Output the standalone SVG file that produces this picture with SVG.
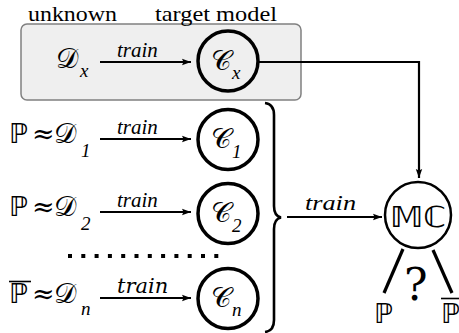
<svg xmlns="http://www.w3.org/2000/svg" width="459" height="333" viewBox="0 0 459 333">
<defs>
<marker id="ah" markerUnits="userSpaceOnUse" markerWidth="10" markerHeight="8" refX="9" refY="4" orient="auto">
<path d="M0,0.8 L9,4 L0,7.2 L1.5,4 z" fill="#000"/>
</marker>
</defs>
<rect width="459" height="333" fill="#fff"/>
<rect x="21" y="24" width="280" height="76" rx="6" fill="#efefef" stroke="#808080" stroke-width="1.5"/>
<text x="28" y="21" font-size="22" font-family="serif" textLength="89" lengthAdjust="spacingAndGlyphs">unknown</text>
<text x="155" y="21" font-size="22" font-family="Times New Roman" textLength="122" lengthAdjust="spacingAndGlyphs">target model</text>

<g id="Dx">
<text x="56" y="68" font-size="28" font-family="DejaVu Sans">𝒟</text>
<text x="80" y="77" font-size="19" font-family="serif" font-style="italic">x</text>
</g>
<g id="D1">
<text x="9" y="143" font-size="27" font-family="DejaVu Sans">ℙ</text>
<text x="32" y="143" font-size="27" font-family="DejaVu Serif">≈</text>
<text x="54" y="143" font-size="28" font-family="DejaVu Sans">𝒟</text>
<text x="81" y="157" font-size="19" font-family="serif" font-style="italic">1</text>
</g>
<g id="D2">
<text x="9" y="216" font-size="27" font-family="DejaVu Sans">ℙ</text>
<text x="32" y="216" font-size="27" font-family="DejaVu Serif">≈</text>
<text x="54" y="216" font-size="28" font-family="DejaVu Sans">𝒟</text>
<text x="81" y="230" font-size="19" font-family="serif" font-style="italic">2</text>
</g>
<g id="Dn">
<text x="9" y="303" font-size="27" font-family="DejaVu Sans">ℙ</text>
<line x1="9" y1="281.5" x2="31" y2="281.5" stroke="#000" stroke-width="1.6"/>
<text x="32" y="303" font-size="27" font-family="DejaVu Serif">≈</text>
<text x="54" y="303" font-size="28" font-family="DejaVu Sans">𝒟</text>
<text x="81" y="315" font-size="19" font-family="serif" font-style="italic">n</text>
</g>

<g id="Cx">
<circle cx="228" cy="61" r="30" fill="none" stroke="#000" stroke-width="3.5"/>
<text x="211" y="70" font-size="28" font-family="DejaVu Sans">𝒞</text>
<text x="232" y="79" font-size="19" font-family="serif" font-style="italic">x</text>
</g>
<g id="C1">
<circle cx="228" cy="139.5" r="30" fill="none" stroke="#000" stroke-width="3.5"/>
<text x="211" y="148" font-size="28" font-family="DejaVu Sans">𝒞</text>
<text x="232" y="158" font-size="19" font-family="serif" font-style="italic">1</text>
</g>
<g id="C2">
<circle cx="228" cy="213.5" r="30" fill="none" stroke="#000" stroke-width="3.5"/>
<text x="211" y="222" font-size="28" font-family="DejaVu Sans">𝒞</text>
<text x="232" y="232" font-size="19" font-family="serif" font-style="italic">2</text>
</g>
<g id="Cn">
<circle cx="228" cy="298.5" r="30" fill="none" stroke="#000" stroke-width="3.5"/>
<text x="211" y="307" font-size="28" font-family="DejaVu Sans">𝒞</text>
<text x="232" y="316" font-size="19" font-family="serif" font-style="italic">n</text>
</g>

<g id="MC">
<circle cx="418" cy="215" r="33" fill="none" stroke="#000" stroke-width="2.5"/>
<text x="390" y="227" font-size="29" font-family="DejaVu Sans" textLength="56" lengthAdjust="spacingAndGlyphs">𝕄ℂ</text>
</g>
<g id="P">
<text x="374" y="323" font-size="27" font-family="DejaVu Sans">ℙ</text>
</g>
<g id="Pbar">
<text x="441" y="323" font-size="27" font-family="DejaVu Sans">ℙ</text>
<line x1="441" y1="298.5" x2="459" y2="298.5" stroke="#000" stroke-width="1.6"/>
</g>
<text x="404" y="300" font-size="44" font-family="DejaVu Serif">?</text>

<g id="connectors">
<g stroke="#000" stroke-width="2.2" fill="none" marker-end="url(#ah)">
<line x1="100" y1="62" x2="191" y2="62"/>
<line x1="100" y1="139" x2="191" y2="139"/>
<line x1="100" y1="212" x2="191" y2="212"/>
<line x1="100" y1="298" x2="191" y2="298"/>
<line x1="287" y1="217" x2="382" y2="217"/>
<path d="M259,62 L419,62 L419,178"/>
</g>
<text x="117" y="57" font-size="21" font-family="Liberation Serif" font-style="italic">train</text>
<text x="117" y="134" font-size="21" font-family="serif" font-style="italic">train</text>
<text x="117" y="207" font-size="21" font-family="Times New Roman" font-style="italic">train</text>
<text x="117" y="293" font-size="21" font-family="DejaVu Serif" font-style="italic">train</text>
<text x="305" y="210" font-size="21" font-family="serif" font-style="italic" textLength="51" lengthAdjust="spacingAndGlyphs">train</text>
<line x1="68" y1="256" x2="224" y2="256" stroke="#000" stroke-width="4" stroke-dasharray="4 9.3"/>
<path d="M265,103 Q274,104 274,115 L274,206 Q274,216 281,217.5 Q274,219 274,229 L274,320 Q274,331 265,332" fill="none" stroke="#000" stroke-width="2.6"/>
<line x1="403" y1="249" x2="384" y2="293" stroke="#000" stroke-width="3.2"/>
<line x1="433" y1="250" x2="452" y2="293" stroke="#000" stroke-width="3.2"/>
</g>
</svg>
